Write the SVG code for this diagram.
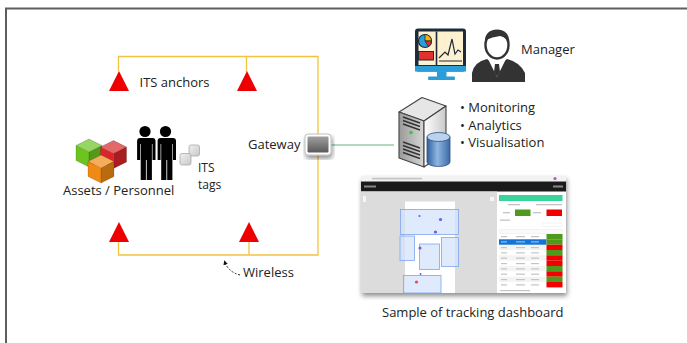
<svg xmlns="http://www.w3.org/2000/svg" width="687" height="343" viewBox="0 0 687 343">
  <style>
    .lbl { font-family: "Open Sans", "Liberation Sans", sans-serif; font-size: 13px; fill: #222; }
    .sm { font-size: 12px; }
    .wire { fill: none; stroke: #f5c23e; stroke-width: 1.3; }
    .anchor { fill: #ee0000; }
    .blk { fill: #d4e3fb; fill-opacity: 0.75; stroke: #7ea6ee; stroke-width: 0.8; }
    .row { fill: #f4f4f4; }
    .txt { fill: #c4c4c4; }
  </style>
  <defs>
    <!-- isometric cube, tinted through the color attribute -->
    <g id="cube">
      <polygon points="0,0 13,6.5 0,13 -13,6.5" fill="currentColor"/>
      <polygon points="0,0 13,6.5 0,13 -13,6.5" fill="#fff" fill-opacity="0.3"/>
      <polygon points="-13,6.5 0,13 0,28 -13,21.5" fill="currentColor"/>
      <polygon points="0,13 13,6.5 13,21.5 0,28" fill="currentColor"/>
      <polygon points="0,13 13,6.5 13,21.5 0,28" fill="#000" fill-opacity="0.22"/>
      <path d="M0,0 L13,6.5 L13,21.5 L0,28 L-13,21.5 L-13,6.5 Z M-13,6.5 L0,13 L13,6.5 M0,13 V28" fill="none" stroke="#000" stroke-opacity="0.25" stroke-width="0.6"/>
    </g>
    <!-- standing person silhouette -->
    <g id="person">
      <circle cx="0" cy="-6.5" r="5.6"/>
      <path d="M-7.5,0 h15 q3,0 3,3 v19 h-3 v-16 h-0.6 v36 h-5.2 v-20 h-0.8 v20 h-5.2 v-36 h-0.6 v16 h-3 v-19 q0,-3 3,-3 z"/>
    </g>
    <linearGradient id="gwFill" x1="0" y1="0" x2="0" y2="1">
      <stop offset="0" stop-color="#a0a0a0"/>
      <stop offset="1" stop-color="#5a5a5a"/>
    </linearGradient>
    <linearGradient id="tagFill" x1="0" y1="0" x2="1" y2="1">
      <stop offset="0" stop-color="#f0f0f0"/>
      <stop offset="1" stop-color="#c8c8c8"/>
    </linearGradient>
    <linearGradient id="srvSide" x1="0" y1="0" x2="1" y2="0">
      <stop offset="0" stop-color="#ffffff"/>
      <stop offset="1" stop-color="#c9c9c9"/>
    </linearGradient>
    <linearGradient id="srvFront" x1="0" y1="0" x2="1" y2="0">
      <stop offset="0" stop-color="#9a9a9a"/>
      <stop offset="1" stop-color="#d6d6d6"/>
    </linearGradient>
    <linearGradient id="dbFill" x1="0" y1="0" x2="1" y2="0">
      <stop offset="0" stop-color="#2f5f9e"/>
      <stop offset="0.45" stop-color="#8fb6e0"/>
      <stop offset="1" stop-color="#3a6aa8"/>
    </linearGradient>
    <marker id="tip" viewBox="0 0 6 6" refX="5" refY="3" markerWidth="5" markerHeight="5" orient="auto">
      <path d="M0,0 L6,3 L0,6 Z" fill="#111"/>
    </marker>
    <filter id="shadow" x="-10%" y="-10%" width="125%" height="130%">
      <feGaussianBlur in="SourceAlpha" stdDeviation="2.5"/>
      <feOffset dx="1" dy="3" result="b"/>
      <feComponentTransfer><feFuncA type="linear" slope="0.45"/></feComponentTransfer>
      <feMerge><feMergeNode/><feMergeNode in="SourceGraphic"/></feMerge>
    </filter>
  </defs>

  <rect width="687" height="343" fill="#fff"/>
  <!-- frame -->
  <path d="M6,343 V8.5 H687" fill="none" stroke="#5e5e5e" stroke-width="2"/>

  <!-- connectors -->
  <g id="connectors">
    <path class="wire" d="M118.5,71 V56.5 H318 V255 H118.5 V242"/>
    <path class="wire" d="M246.5,56.5 V72"/>
    <path class="wire" d="M249,242 V255"/>
    <path d="M331,145 H394" stroke="#5cb87a" stroke-width="1.2" fill="none"/>
    <path d="M240,275 Q228,272 224.5,261" fill="none" stroke="#111" stroke-width="0.9" stroke-dasharray="2,1.6" marker-end="url(#tip)"/>
  </g>

  <!-- ITS anchors -->
  <g id="anchors">
    <polygon class="anchor" points="119,71 129,91 109,91"/>
    <polygon class="anchor" points="247,71 257,91 237,91"/>
    <polygon class="anchor" points="119,222 129,242 109,242"/>
    <polygon class="anchor" points="249,222 259,242 239,242"/>
    <text class="lbl" x="139.5" y="86.5">ITS anchors</text>
  </g>

  <!-- assets and personnel -->
  <g id="assets">
    <use href="#cube" x="89" y="139" color="#6cc420"/>
    <use href="#cube" x="113.5" y="140.5" color="#d8262a"/>
    <use href="#cube" x="101" y="155" color="#f08a14"/>
    <use href="#person" x="145" y="138" fill="#000"/>
    <use href="#person" x="165.5" y="138" fill="#000"/>
    <text class="lbl" x="63" y="195">Assets / Personnel</text>
  </g>

  <!-- tags -->
  <g id="tags">
    <rect x="189" y="145" width="10.5" height="11" rx="2" fill="url(#tagFill)" stroke="#a8a8a8" stroke-width="0.8"/>
    <rect x="180" y="153.5" width="11" height="11.5" rx="2" fill="url(#tagFill)" stroke="#a8a8a8" stroke-width="0.8"/>
    <text class="lbl sm" x="198" y="172">ITS</text>
    <text class="lbl sm" x="198" y="188.5">tags</text>
  </g>

  <!-- gateway -->
  <g id="gateway">
    <rect x="305" y="134" width="26" height="21" rx="3" fill="#fff" stroke="#bdbdbd" stroke-width="1" filter="url(#shadow)"/>
    <rect x="307.5" y="136.5" width="21" height="16" rx="1" fill="url(#gwFill)"/>
    <text class="lbl" x="248" y="149">Gateway</text>
  </g>

  <!-- wireless label -->
  <g id="wireless">
    <text class="lbl" x="243" y="277">Wireless</text>
  </g>

  <!-- manager console -->
  <g id="monitor">
    <rect x="415" y="28.5" width="51" height="43" rx="3" fill="#1e2b3a"/>
    <rect x="415" y="66" width="51" height="5.5" fill="#2a9ed8"/>
    <rect x="418.5" y="31.5" width="44.5" height="33.5" fill="#fdf1cf"/>
    <line x1="436.5" y1="31.5" x2="436.5" y2="65" stroke="#1e2b3a" stroke-width="1.6"/>
    <circle cx="425" cy="41" r="6.5" fill="#2a9ed8" stroke="#1e2b3a" stroke-width="1.2"/>
    <path d="M425,41 L425,34.5 A6.5,6.5 0 0,1 431.5,41 Z" fill="#f5b800" stroke="#1e2b3a" stroke-width="0.8"/>
    <path d="M425,41 L431.5,41 A6.5,6.5 0 0,1 428.5,46.5 Z" fill="#e03030" stroke="#1e2b3a" stroke-width="0.8"/>
    <rect x="418.5" y="51.5" width="15" height="8.5" fill="#e03030" stroke="#1e2b3a" stroke-width="1"/>
    <polyline points="439,58 445,52 448,55 452,39 455,54 458,50 461,52" fill="none" stroke="#1e2b3a" stroke-width="1.2"/>
    <line x1="439" y1="61" x2="462" y2="61" stroke="#1e2b3a" stroke-width="1"/>
    <rect x="437" y="71.5" width="9.5" height="5.5" fill="#2a9ed8"/>
    <rect x="428" y="76.5" width="27" height="3.5" rx="1" fill="#2a9ed8"/>
  </g>

  <g id="manager">
    <path d="M472,82 V73 Q474,62 487,59 L497,66 L507,59 Q520,62 525,73 V82 Z" fill="#333"/>
    <path d="M488,59 L497,77 L506,59 Q497,64 488,59 Z" fill="#fff"/>
    <path d="M495,64 H499 L500,72 L497,77 L494,72 Z" fill="#333"/>
    <ellipse cx="497" cy="45" rx="11.5" ry="13.5" fill="#fff" stroke="#333" stroke-width="2.4"/>
    <path d="M485,46 Q483,30 497,29.5 Q511,30 509,46 Q507,37 500,36 Q492,37 486,40 Z" fill="#333"/>
    <text class="lbl" x="521" y="54">Manager</text>
  </g>

  <!-- server -->
  <g id="server">
    <polygon points="399,112 422,97.5 446,106 424,121" fill="#e6e6e6" stroke="#444" stroke-width="1.1" stroke-linejoin="round"/>
    <polygon points="399,112 424,121 424,167 399,158" fill="url(#srvFront)" stroke="#444" stroke-width="1.1" stroke-linejoin="round"/>
    <polygon points="424,121 446,106 446,152 424,167" fill="url(#srvSide)" stroke="#444" stroke-width="1.1" stroke-linejoin="round"/>
    <g stroke="#333" stroke-width="1.4">
      <line x1="403" y1="117" x2="420" y2="123"/>
      <line x1="403" y1="120.5" x2="420" y2="126.5"/>
      <line x1="403" y1="124" x2="420" y2="130"/>
      <line x1="403" y1="142" x2="420" y2="148"/>
      <line x1="403" y1="145.5" x2="420" y2="151.5"/>
      <line x1="403" y1="149" x2="420" y2="155"/>
      <line x1="403" y1="152.5" x2="420" y2="158.5"/>
    </g>
    <circle cx="411" cy="132.5" r="1.8" fill="#3fc23f"/>
    <path d="M427,137 V162 A11.5,4.5 0 0,0 450,162 V137 Z" fill="url(#dbFill)" stroke="#2b4f80" stroke-width="0.8"/>
    <ellipse cx="438.5" cy="137" rx="11.5" ry="4.5" fill="#b9d3ee" stroke="#2b4f80" stroke-width="0.8"/>
    <text class="lbl" x="460" y="111.5">• Monitoring</text>
    <text class="lbl" x="460" y="129.5">• Analytics</text>
    <text class="lbl" x="460" y="147">• Visualisation</text>
  </g>

  <!-- dashboard sample -->
  <g id="dashboard">
    <rect x="361" y="176" width="205" height="117" fill="#fff" filter="url(#shadow)"/>
    <rect x="361" y="176" width="205" height="5.5" fill="#f2f2f2"/>
    <rect x="372" y="177.8" width="50" height="1.6" class="txt"/>
    <circle cx="555" cy="178.6" r="1.6" fill="#b05cd8"/>
    <rect x="361" y="181.5" width="205" height="10" fill="#1b1b1b"/>
    <rect x="364" y="185.5" width="12" height="2" fill="#888"/>
    <rect x="553" y="185.5" width="10" height="2" fill="#888"/>
    <!-- map -->
    <rect x="361" y="191.5" width="136" height="101.5" fill="#dcdcdc"/>
    <rect x="405" y="201.5" width="50" height="91.5" fill="#fff"/>
    <rect x="363" y="196" width="3" height="6" fill="#f6f6f6"/>
    <rect x="490" y="197" width="4" height="4" fill="#f6f6f6"/>
    <rect class="blk" x="400.5" y="209.5" width="58" height="25"/>
    <rect class="blk" x="400" y="236" width="14.5" height="24.5"/>
    <rect class="blk" x="419.5" y="244" width="20" height="25.5"/>
    <rect class="blk" x="441.5" y="237.5" width="17" height="29"/>
    <rect class="blk" x="403.5" y="275.5" width="37.5" height="17.5"/>
    <g fill="#6b5ee8">
      <circle cx="419.5" cy="216" r="1.1"/>
      <circle cx="440.5" cy="219.5" r="1.6"/>
      <circle cx="435.5" cy="232" r="1.6"/>
      <circle cx="420" cy="248" r="1.6"/>
      <circle cx="420.5" cy="274" r="1"/>
    </g>
    <circle cx="416.5" cy="282" r="1.6" fill="#e04a6a"/>
    <!-- side panel -->
    <rect x="499" y="195" width="63.5" height="6" fill="#3ad39c"/>
    <rect x="508" y="204" width="12" height="1.3" class="txt"/>
    <rect x="536" y="204" width="26" height="1.3" class="txt"/>
    <rect x="503" y="212" width="7" height="1.3" class="txt"/>
    <rect x="515" y="209.5" width="15.5" height="6.5" fill="#4f9a1c"/>
    <rect x="533" y="212" width="8" height="1.3" class="txt"/>
    <rect x="546.5" y="209.5" width="15.5" height="6.5" fill="#f20000"/>
    <rect x="500" y="219.5" width="10" height="1.3" class="txt"/>
    <rect x="542" y="223" width="20" height="3.5" fill="none" stroke="#e6e6e6" stroke-width="0.5"/>
    <rect x="499" y="229.5" width="63.5" height="4" fill="#fafafa" stroke="#e4e4e4" stroke-width="0.4"/>
    <rect class="row" x="499" y="244.7" width="47.5" height="5.3"/>
    <rect class="row" x="499" y="255.3" width="47.5" height="5.3"/>
    <rect class="row" x="499" y="266" width="47.5" height="5.3"/>
    <rect class="row" x="499" y="276.6" width="47.5" height="5.3"/>
    <rect x="499" y="239.3" width="47.5" height="5.4" fill="#1274d8"/>
    <g>
      <rect x="546.5" y="234" width="16" height="5.4" fill="#4f9a1c"/>
      <rect x="546.5" y="239.3" width="16" height="5.4" fill="#4f9a1c"/>
      <rect x="546.5" y="244.7" width="16" height="5.4" fill="#f20000"/>
      <rect x="546.5" y="250" width="16" height="5.4" fill="#4f9a1c"/>
      <rect x="546.5" y="255.3" width="16" height="5.4" fill="#f20000"/>
      <rect x="546.5" y="260.7" width="16" height="5.4" fill="#f20000"/>
      <rect x="546.5" y="266" width="16" height="5.4" fill="#4f9a1c"/>
      <rect x="546.5" y="271.3" width="16" height="5.4" fill="#f20000"/>
      <rect x="546.5" y="276.6" width="16" height="5.4" fill="#4f9a1c"/>
      <rect x="546.5" y="282" width="16" height="5.4" fill="#f20000"/>
    </g>
    <g class="txt">
      <rect x="501" y="236" width="6" height="1.2"/>
      <rect x="516" y="236" width="9" height="1.2"/>
      <rect x="531" y="236" width="8" height="1.2"/>
      <rect x="501" y="247" width="6" height="1.2"/>
      <rect x="516" y="247" width="9" height="1.2"/>
      <rect x="531" y="247" width="8" height="1.2"/>
      <rect x="501" y="252.3" width="6" height="1.2"/>
      <rect x="516" y="252.3" width="9" height="1.2"/>
      <rect x="531" y="252.3" width="8" height="1.2"/>
      <rect x="501" y="257.6" width="6" height="1.2"/>
      <rect x="516" y="257.6" width="9" height="1.2"/>
      <rect x="531" y="257.6" width="8" height="1.2"/>
      <rect x="501" y="263" width="6" height="1.2"/>
      <rect x="516" y="263" width="9" height="1.2"/>
      <rect x="531" y="263" width="8" height="1.2"/>
      <rect x="501" y="268.3" width="6" height="1.2"/>
      <rect x="516" y="268.3" width="9" height="1.2"/>
      <rect x="531" y="268.3" width="8" height="1.2"/>
      <rect x="501" y="273.6" width="6" height="1.2"/>
      <rect x="516" y="273.6" width="9" height="1.2"/>
      <rect x="531" y="273.6" width="8" height="1.2"/>
      <rect x="501" y="279" width="6" height="1.2"/>
      <rect x="516" y="279" width="9" height="1.2"/>
      <rect x="531" y="279" width="8" height="1.2"/>
      <rect x="501" y="284.3" width="6" height="1.2"/>
      <rect x="516" y="284.3" width="9" height="1.2"/>
      <rect x="531" y="284.3" width="8" height="1.2"/>
      <rect x="500" y="290" width="30" height="1.2"/>
    </g>
    <rect x="501" y="241.3" width="6" height="1.2" fill="#8fc0f0"/>
    <rect x="516" y="241.3" width="9" height="1.2" fill="#8fc0f0"/>
    <rect x="531" y="241.3" width="8" height="1.2" fill="#8fc0f0"/>
    <text class="lbl" x="382" y="316.5">Sample of tracking dashboard</text>
  </g>
</svg>
